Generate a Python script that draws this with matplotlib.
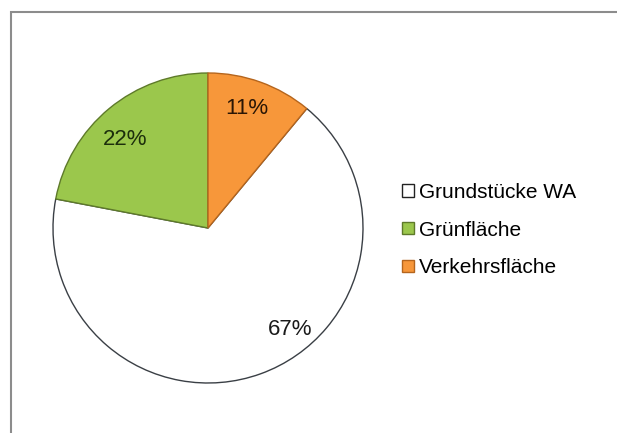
import numpy as np
import matplotlib.pyplot as plt
from matplotlib.patches import Rectangle

plt.rcParams['font.family'] = ['Liberation Sans', 'DejaVu Sans']

labels = ['Grundstücke WA', 'Grünfläche', 'Verkehrsfläche']
shares = [67, 22, 11]
colors = ['#FFFFFF', '#9BC74C', '#F7973A']
pct_text = ['67%', '22%', '11%']

fig = plt.figure(figsize=(6.17, 4.33), dpi=100)

# outer chart frame (left + top edges visible)
fig.patches.append(Rectangle((11 / 617, -0.1), 1.2, (433 - 12) / 433 + 0.1,
                             transform=fig.transFigure, fill=False,
                             edgecolor='#8C8C8C', linewidth=1.5))

ax = fig.add_axes([53 / 617, (433 - 383) / 433, 310 / 617, 310 / 433])
wedges, _ = ax.pie(shares, colors=colors, startangle=50.4, counterclock=False,
                   wedgeprops=dict(edgecolor='#3A3F45', linewidth=1.0))
wedges[1].set_edgecolor('#5E7A2A')
wedges[2].set_edgecolor('#B5651D')
ax.set_aspect('equal')
ax.set_xlim(-1, 1)
ax.set_ylim(-1, 1)

# label positions (radius, angle in degrees)
label_pos = [(0.84, -51), (0.78, 133), (0.81, 72)]
text_cols = ['#1A1A1A', '#1C2E0C', '#2A1605']
for txt, (r, a), tc in zip(pct_text, label_pos, text_cols):
    ax.text(r * np.cos(np.radians(a)), r * np.sin(np.radians(a)), txt,
            ha='center', va='center', fontsize=16, color=tc)

handles = [Rectangle((0, 0), 1, 1, facecolor=c, edgecolor=e, linewidth=1)
           for c, e in zip(colors, ['#222222', '#5E7A2A', '#B5651D'])]
fig.legend(handles, labels, loc='center left', bbox_to_anchor=(394 / 617, 1 - 230 / 433),
           frameon=False, fontsize=15, handlelength=0.55, handleheight=0.55,
           handletextpad=0.25, labelspacing=0.9, borderaxespad=0)

fig.savefig('out.png', dpi=100)
